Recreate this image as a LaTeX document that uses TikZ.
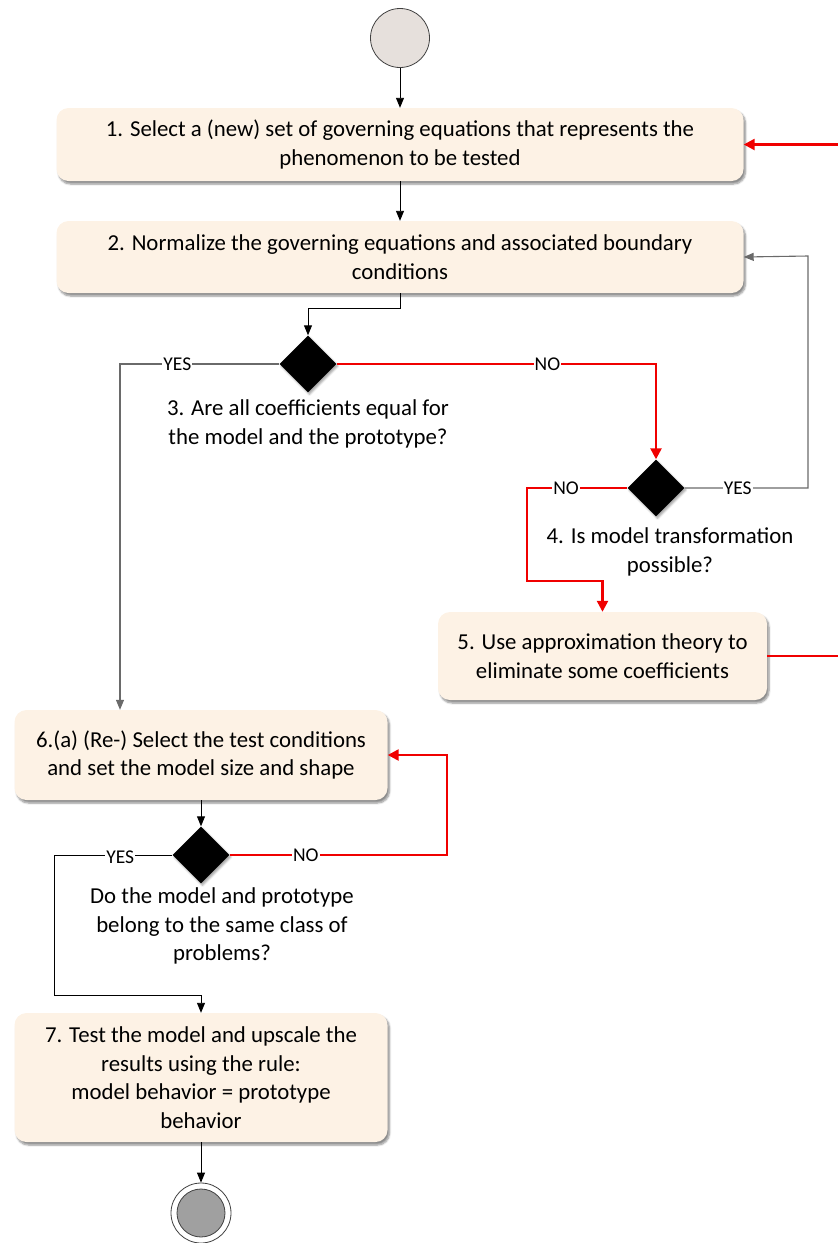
\documentclass[tikz,border=0pt]{standalone}
\usepackage{fontspec}
\setmainfont{Carlito}
\usetikzlibrary{arrows.meta,shapes.geometric,shadows.blur,calc}
\definecolor{boxfill}{HTML}{FDF2E5}
\definecolor{startfill}{HTML}{E6E0DC}
\definecolor{endfill}{HTML}{A0A0A0}
\definecolor{redline}{HTML}{F00000}
\definecolor{grayline}{HTML}{6A6A6A}
\begin{document}
\begin{tikzpicture}[x=1pt,y=-1pt,
  stepbox/.style={draw=none, fill=boxfill, rounded corners=12pt, align=center,
     font=\fontsize{22.8}{28.5}\selectfont, inner sep=0pt,
     blur shadow={shadow xshift=2pt, shadow yshift=-3pt, shadow blur steps=6, shadow opacity=45}},
  decision/.style={diamond, fill=black, draw=none, minimum width=57pt, minimum height=57pt, inner sep=0pt,
     blur shadow={shadow xshift=1.5pt, shadow yshift=-2pt, shadow blur steps=4, shadow opacity=35}},
  qtext/.style={align=center, font=\fontsize{22.8}{28.5}\selectfont},
  lbl/.style={fill=white, inner sep=1pt, font=\fontsize{19.5}{21}\selectfont},
  blk/.style={draw=black, line width=0.9pt, -{Triangle[length=10pt,width=8pt]}},
  gry/.style={draw=grayline, line width=1.1pt, -{Triangle[length=10pt,width=8pt]}},
  rdl/.style={draw=redline, line width=2.4pt, -{Triangle[length=11pt,width=11pt]}},
]
\useasboundingbox (0,0) rectangle (838,1243);

% start
\node[circle, draw=black!75, line width=0.8pt, fill=startfill, minimum size=59pt, inner sep=0pt] (start) at (400,38) {};

% boxes
\node[stepbox, minimum width=687pt, minimum height=73pt] (b1) at (400,144.5)
  {1. Select a (new) set of governing equations that represents the\\phenomenon to be tested};
\node[stepbox, minimum width=687pt, minimum height=72pt] (b2) at (400,257)
  {2. Normalize the governing equations and associated boundary\\conditions};
\node[stepbox, minimum width=329pt, minimum height=88pt] (b5) at (602.5,656)
  {5. Use approximation theory to\\eliminate some coefficients};
\node[stepbox, minimum width=373pt, minimum height=90pt] (b6) at (201,755)
  {6.(a) (Re-) Select the test conditions\\and set the model size and shape};
\node[stepbox, minimum width=373pt, minimum height=129pt] (b7) at (201,1077.5)
  {7. Test the model and upscale the\\results using the rule:\\model behavior = prototype\\behavior};

% decisions
\node[decision] (d3) at (308,364) {};
\node[decision] (d4) at (656,488) {};
\node[decision] (d6) at (201,855) {};

\node[qtext] (q3) at (308,424) {3. Are all coefficients equal for\\the model and the prototype?};
\node[qtext] (q4) at (670,552) {4. Is model transformation\\possible?};
\node[qtext] (q6) at (222,926) {Do the model and prototype\\belong to the same class of\\problems?};

% end
\node[circle, draw=black!75, line width=0.8pt, fill=white, minimum size=60pt, inner sep=0pt] (endo) at (201,1213) {};
\node[circle, draw=black!75, line width=0.8pt, fill=endfill, minimum size=48pt, inner sep=0pt] (endi) at (201,1213) {};

% coordinates
\coordinate (c2a) at (400,308);
\coordinate (c2b) at (308,308);
\coordinate (y3) at (120,364);
\coordinate (n3) at (656,364);
\coordinate (y4a) at (808,488);
\coordinate (y4b) at (808,256);
\coordinate (n4a) at (527,488);
\coordinate (n4b) at (527,581);
\coordinate (n4c) at (602.5,581);
\coordinate (r5a) at (845,656);
\coordinate (r5b) at (845,144.5);
\coordinate (y6a) at (54,855);
\coordinate (y6b) at (54,995);
\coordinate (y6c) at (201,995);
\coordinate (n6a) at (447,855);
\coordinate (n6b) at (447,755);

% connectors
\draw[blk] (start) -- (b1);
\draw[blk] (b1) -- (b2);
\draw[blk] (b2.south) -- (c2a) -- (c2b) -- (d3.north);
\draw[gry] (d3.west) -- node[lbl, pos=0.64]{YES} (y3) -- (y3 |- b6.north);
\draw[rdl] (d3.east) -- node[lbl, pos=0.66]{NO} (n3) -- (d4.north);
\draw[gry] (d4.east) -- node[lbl, pos=0.43]{YES} (y4a) -- (y4b) -- (b2.east);
\draw[rdl] (d4.west) -- node[lbl, pos=0.61]{NO} (n4a) -- (n4b) -- (n4c) -- (b5.north);
\draw[rdl] (b5.east) -- (r5a) -- (r5b) -- (b1.east);
\draw[blk] (b6.south) -- (d6.north);
\draw[blk] (d6.west) -- node[lbl, pos=0.44, yshift=-2pt]{YES} (y6a) -- (y6b) -- (y6c) -- (b7.north);
\draw[rdl] (d6.east) -- node[lbl, pos=0.35]{NO} (n6a) -- (n6b) -- (b6.east);
\draw[blk] (b7.south) -- (endo.north);
\end{tikzpicture}
\end{document}
